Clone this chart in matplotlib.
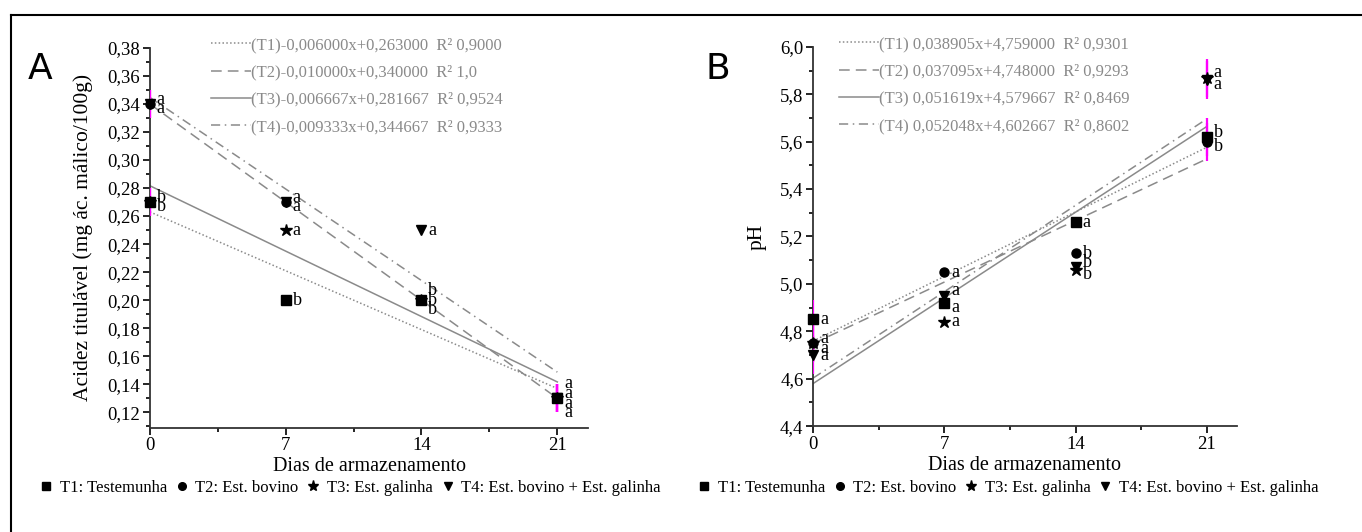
import matplotlib.pyplot as plt
import numpy as np
from matplotlib.lines import Line2D
from matplotlib.ticker import FuncFormatter, MultipleLocator

plt.rcParams['font.family'] = ['Liberation Serif', 'DejaVu Serif']

days = [0, 7, 14, 21]
treat = ['T1', 'T2', 'T3', 'T4']
markers = ['s', 'o', '*', 'v']
legend_names = ['T1: Testemunha', 'T2: Est. bovino', 'T3: Est. galinha',
                'T4: Est. bovino + Est. galinha']
line_styles = [(0, (1, 1.5)), (0, (7, 4)), '-', (0, (6, 3, 1, 3))]

# panel A - acidez titulavel
acid = {
    'T1': [0.27, 0.20, 0.20, 0.13],
    'T2': [0.34, 0.27, 0.20, 0.13],
    'T3': [0.27, 0.25, 0.20, 0.13],
    'T4': [0.34, 0.27, 0.25, 0.13],
}
acid_letters = {
    'T1': ['b', 'b', 'b', 'a'],
    'T2': ['a', 'a', 'b', 'a'],
    'T3': ['b', 'a', 'b', 'a'],
    'T4': ['a', 'a', 'a', 'a'],
}
acid_slope = [-0.006000, -0.010000, -0.006667, -0.009333]
acid_icpt = [0.263000, 0.340000, 0.281667, 0.344667]
acid_eq = ['(T1)-0,006000x+0,263000  R² 0,9000',
           '(T2)-0,010000x+0,340000  R² 1,0',
           '(T3)-0,006667x+0,281667  R² 0,9524',
           '(T4)-0,009333x+0,344667  R² 0,9333']
acid_err = [0.01, 0.01, 0.01, 0.01]

# panel B - pH
ph = {
    'T1': [4.85, 4.92, 5.26, 5.62],
    'T2': [4.75, 5.05, 5.13, 5.60],
    'T3': [4.75, 4.84, 5.06, 5.87],
    'T4': [4.70, 4.95, 5.07, 5.86],
}
ph_letters = {
    'T1': ['a', 'a', 'a', 'b'],
    'T2': ['a', 'a', 'b', 'b'],
    'T3': ['a', 'a', 'b', 'a'],
    'T4': ['a', 'a', 'b', 'a'],
}
ph_slope = [0.038905, 0.037095, 0.051619, 0.052048]
ph_icpt = [4.759000, 4.748000, 4.579667, 4.602667]
ph_eq = ['(T1) 0,038905x+4,759000  R² 0,9301',
         '(T2) 0,037095x+4,748000  R² 0,9293',
         '(T3) 0,051619x+4,579667  R² 0,8469',
         '(T4) 0,052048x+4,602667  R² 0,8602']
ph_err = [0.08, 0.08, 0.08, 0.08]

comma = FuncFormatter(lambda v, p: ('%.2f' % v).replace('.', ','))
comma1 = FuncFormatter(lambda v, p: ('%.1f' % v).replace('.', ','))

fig = plt.figure(figsize=(13.62, 5.32), dpi=100)
axA = fig.add_axes([0.110, 0.196, 0.322, 0.714])
axB = fig.add_axes([0.597, 0.199, 0.311, 0.713])


def draw(ax, data, letters, slope, icpt, eqs, err, ylim, ystep, yminor, fmt,
         ylabel, leg_x):
    xs = np.array([0, 21])
    handles = []
    for i, t in enumerate(treat):
        ln, = ax.plot(xs, icpt[i] + slope[i] * xs, color='#8a8a8a', lw=1.1,
                      linestyle=line_styles[i])
        handles.append(ln)
    for i, t in enumerate(treat):
        yv = np.array(data[t])
        ax.errorbar([days[0], days[3]], yv[[0, 3]], yerr=err[i], fmt='none',
                    ecolor='#ff00ff', elinewidth=1.6, capsize=0, zorder=3)
        ms = 9 if markers[i] == '*' else 6.5
        ax.plot(days, yv, linestyle='none', marker=markers[i], color='black',
                ms=ms, zorder=4, clip_on=False)

    # letters beside the points, stacked when points share a value
    tol = (ylim[1] - ylim[0]) * 0.03
    for j, d in enumerate(days):
        pts = sorted([(data[t][j], letters[t][j]) for t in treat], reverse=True)
        groups = []
        for v, l in pts:
            if groups and abs(groups[-1][0][0] - v) < tol:
                groups[-1].append((v, l))
            else:
                groups.append([(v, l)])
        for g in groups:
            n = len(g)
            for k, (v, l) in enumerate(g):
                off = ((n - 1) / 2 - k) * 7
                ax.annotate(l, (d, v), xytext=(5, off), textcoords='offset points',
                            fontsize=13, va='center', ha='left', zorder=5)

    ax.set_xlim(0, 22.6)
    ax.set_ylim(*ylim)
    ax.set_xticks(days)
    ax.xaxis.set_minor_locator(MultipleLocator(3.5))
    ax.yaxis.set_major_locator(MultipleLocator(ystep))
    ax.yaxis.set_minor_locator(MultipleLocator(yminor))
    ax.yaxis.set_major_formatter(fmt)
    ax.tick_params(which='major', direction='out', length=5, width=1.2,
                   labelsize=13.5, pad=2)
    ax.tick_params(which='minor', direction='out', length=3, width=1.2)
    for s in ['top', 'right']:
        ax.spines[s].set_visible(False)
    for s in ['left', 'bottom']:
        ax.spines[s].set_linewidth(1.3)
        ax.spines[s].set_color('#333333')
    ax.set_xlabel('Dias de armazenamento', fontsize=14.5, labelpad=2)
    ax.set_ylabel(ylabel, fontsize=15.5, labelpad=10)
    leg = ax.legend(handles, eqs, loc='upper left', bbox_to_anchor=(leg_x, 1.068),
                    frameon=False, fontsize=12, labelcolor='#8a8a8a',
                    handlelength=2.4, handletextpad=0.0, labelspacing=0.68)
    for h in leg.legend_handles:
        h.set_linewidth(1.1)


draw(axA, acid, acid_letters, acid_slope, acid_icpt, acid_eq, acid_err,
     (0.109, 0.38), 0.02, 0.01, comma, 'Acidez titulável (mg ác. málico/100g)', 0.105)
draw(axB, ph, ph_letters, ph_slope, ph_icpt, ph_eq, ph_err,
     (4.4, 6.0), 0.2, 0.1, comma1, 'pH', 0.025)

fig.text(0.020, 0.87, 'A', fontsize=26, family='DejaVu Sans', va='center')
fig.text(0.518, 0.87, 'B', fontsize=26, family='DejaVu Sans', va='center')

mk_handles = [Line2D([], [], marker=m, color='black', linestyle='none',
                     ms=(8 if m == '*' else 5.5)) for m in markers]
for xc in [0.257, 0.740]:
    fig.legend(mk_handles, legend_names, loc='center', bbox_to_anchor=(xc, 0.083),
               ncol=4, frameon=False, fontsize=12, handlelength=0.8,
               handletextpad=0.4, columnspacing=0.5, borderpad=0.1)

# outer frame lines of the original figure
fig.add_artist(Line2D([0.008, 1.0], [0.972, 0.972], color='black', lw=1.5))
fig.add_artist(Line2D([0.008, 0.008], [0.0, 0.972], color='black', lw=1.5))

fig.savefig('out.png', dpi=100)
